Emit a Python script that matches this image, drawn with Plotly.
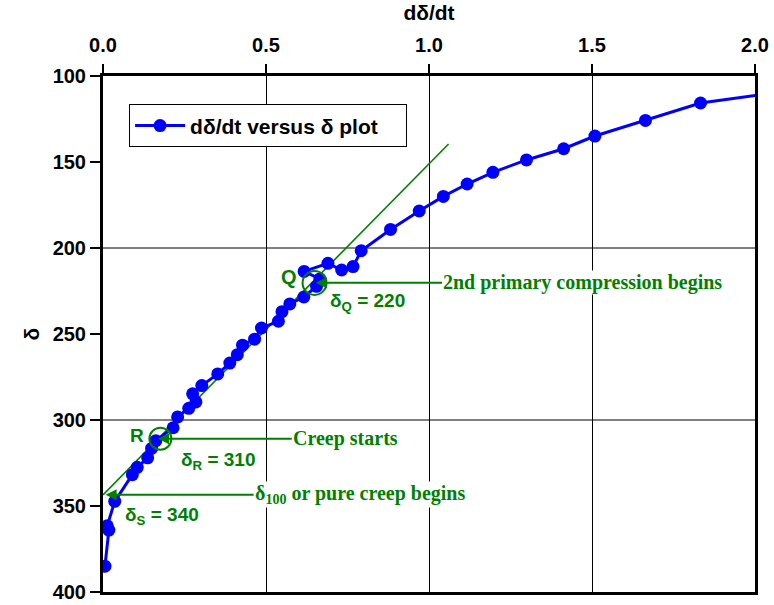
import plotly.graph_objects as go

# ---- data ----
rate = [0.006, 0.018, 0.013, 0.036, 0.090, 0.105, 0.137, 0.149, 0.162, 0.215,
        0.229, 0.263, 0.285, 0.275, 0.303, 0.352, 0.389, 0.412, 0.428, 0.465,
        0.486, 0.538, 0.549, 0.573, 0.616, 0.655, 0.665, 0.617, 0.690, 0.732,
        0.767, 0.792, 0.882, 0.970, 1.044, 1.117, 1.196, 1.299, 1.413, 1.509,
        1.664, 1.833, 2.05]
delta = [385.0, 364.0, 361.5, 347.3, 331.8, 327.5, 322.0, 316.5, 312.0, 304.5,
         298.2, 293.2, 289.5, 284.8, 280.0, 273.2, 266.9, 262.0, 256.5, 253.0,
         246.5, 242.6, 237.0, 232.5, 228.5, 222.3, 218.0, 213.6, 208.9, 212.8,
         210.8, 201.6, 189.2, 178.5, 170.0, 162.8, 156.0, 148.8, 142.3, 134.9,
         125.8, 115.7, 110.0]

tangent_x = [0.0, 1.06]
tangent_y = [343.5, 139.5]

x_ticks = [0.0, 0.5, 1.0, 1.5, 2.0]
x_ticktext = ["0.0", "0.5", "1.0", "1.5", "2.0"]
y_ticks = [100, 150, 200, 250, 300, 350, 400]
y_grid = [200, 300]

# key points (rate at circle, delta)
Q_pt = (0.649, 220.3)
R_pt = (0.176, 310.9)
S_delta = 343.5

GREEN = "#008000"
BLUE = "#0000FF"
SANS = "Liberation Sans"
SERIF = "Liberation Serif"

fig = go.Figure()

fig.add_trace(go.Scatter(
    x=tangent_x, y=tangent_y, mode="lines",
    line=dict(color=GREEN, width=1.6), showlegend=False, hoverinfo="skip"))

fig.add_trace(go.Scatter(
    x=rate, y=delta, mode="lines+markers",
    name="d\u03b4/dt versus \u03b4 plot" + "\u00a0" * 4,
    line=dict(color=BLUE, width=3),
    marker=dict(color=BLUE, size=13, symbol="circle")))

shapes = []
for g in y_grid:
    shapes.append(dict(type="line", xref="paper", yref="y", x0=0, x1=1, y0=g, y1=g,
                       line=dict(color="black", width=1), layer="below"))
for (cx, cy), r in [(Q_pt, 12), (R_pt, 11)]:
    shapes.append(dict(type="circle", xref="x", yref="y", xsizemode="pixel",
                       ysizemode="pixel", xanchor=cx, yanchor=cy,
                       x0=-r, x1=r, y0=-r, y1=r,
                       line=dict(color=GREEN, width=2)))


def txt(x, y, s, size=19, family=SANS, anchor="left", bg=None):
    d = dict(x=x, y=y, xref="x", yref="y", text=s, showarrow=False,
             xanchor=anchor, yanchor="middle",
             font=dict(family=family, size=size, color=GREEN, weight="bold"))
    if bg:
        d["bgcolor"] = bg
        d["borderpad"] = 0
    return d


def arrow_txt(tip_x, tail_x, yv, s):
    return dict(x=tip_x, y=yv, ax=tail_x, ay=yv, xref="x", yref="y",
                axref="x", ayref="y", text=s, showarrow=True,
                xanchor="left", yanchor="middle", bgcolor="white", borderpad=0,
                arrowhead=2, arrowsize=1.1, arrowwidth=2, arrowcolor=GREEN,
                font=dict(family=SERIF, size=20, color=GREEN, weight="bold"))


ann = [
    arrow_txt(0.653, 1.040, 220.2, "<b>2nd primary compression begins</b>"),
    arrow_txt(0.169, 0.579, 310.9, "<b>Creep starts</b>"),
    arrow_txt(0.008, 0.462, S_delta, "<b>\u03b4<sub>100</sub> or pure creep begins</b>"),
    txt(0.570, 216.7, "<b>Q</b>", size=20, anchor="center"),
    txt(0.690, 231.5, "<b>\u03b4<sub>Q</sub> = 220</b>"),
    txt(0.104, 308.8, "<b>R</b>", size=19, anchor="center"),
    txt(0.233, 324.0, "<b>\u03b4<sub>R</sub> = 310</b>"),
    txt(-0.045, 342.5, "<b>S</b>", size=19, anchor="center"),
    txt(0.060, 356.0, "<b>\u03b4<sub>S</sub> = 340</b>"),
]

fig.update_layout(
    width=774, height=605,
    margin=dict(l=103, r=19, t=76, b=13, autoexpand=False),
    paper_bgcolor="white", plot_bgcolor="white",
    font=dict(family=SANS, size=18, color="black"),
    shapes=shapes, annotations=ann,
    showlegend=True,
    legend=dict(x=0.04, y=0.945, xanchor="left", yanchor="top",
                bgcolor="white", bordercolor="black", borderwidth=1,
                font=dict(family=SANS, size=21, color="black", weight="bold"),
                itemwidth=50),
    xaxis=dict(side="top", range=[0, 2], tickvals=x_ticks, ticktext=x_ticktext,
               automargin=False,
               showgrid=True, gridcolor="black", gridwidth=1,
               showline=True, linecolor="black", linewidth=3, mirror=True,
               ticks="outside", ticklen=9, tickwidth=2, tickcolor="black",
               ticklabelstandoff=4,
               tickfont=dict(family=SANS, size=20, weight="bold"),
               zeroline=False,
               title=dict(text="<b>d\u03b4/dt</b>", standoff=8,
                          font=dict(family=SANS, size=21, weight="bold"))),
    yaxis=dict(range=[400, 100], tickvals=y_ticks,
               automargin=False,
               showgrid=False,
               showline=True, linecolor="black", linewidth=3, mirror=True,
               ticks="outside", ticklen=10, tickwidth=2, tickcolor="black",
               tickfont=dict(family=SANS, size=20, weight="bold"),
               zeroline=False,
               title=dict(text="<b>\u03b4</b>", standoff=8,
                          font=dict(family=SANS, size=21, weight="bold"))),
)

fig.write_html("out.html")
